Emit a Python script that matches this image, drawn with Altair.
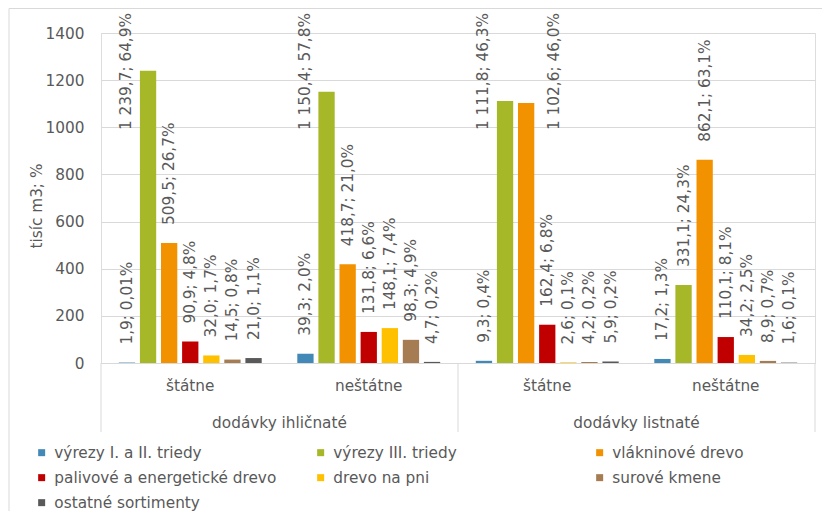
import altair as alt
import pandas as pd

# ---------------- data ----------------
series = ["výrezy I. a II. triedy", "výrezy III. triedy", "vlákninové drevo",
          "palivové a energetické drevo", "drevo na pni", "surové kmene",
          "ostatné sortimenty"]
colors = ["#4389B8", "#A6B727", "#F39200", "#C00000", "#FFC000", "#A67C52", "#595959"]

groups = ["dodávky ihličnaté", "dodávky listnaté"]
subcats = ["štátne", "neštátne"]

ihl_statne = [1.9, 1239.7, 509.5, 90.9, 32.0, 14.5, 21.0]
ihl_statne_pct = [0.01, 64.9, 26.7, 4.8, 1.7, 0.8, 1.1]
ihl_nestatne = [39.3, 1150.4, 418.7, 131.8, 148.1, 98.3, 4.7]
ihl_nestatne_pct = [2.0, 57.8, 21.0, 6.6, 7.4, 4.9, 0.2]
lis_statne = [9.3, 1111.8, 1102.6, 162.4, 2.6, 4.2, 5.9]
lis_statne_pct = [0.4, 46.3, 46.0, 6.8, 0.1, 0.2, 0.2]
lis_nestatne = [17.2, 331.1, 862.1, 110.1, 34.2, 8.9, 1.6]
lis_nestatne_pct = [1.3, 24.3, 63.1, 8.1, 2.5, 0.7, 0.1]

y_ticks = [0, 200, 400, 600, 800, 1000, 1200, 1400]

# ---------------- build table ----------------
blocks = [
    (groups[0], subcats[0], ihl_statne, ihl_statne_pct),
    (groups[0], subcats[1], ihl_nestatne, ihl_nestatne_pct),
    (groups[1], subcats[0], lis_statne, lis_statne_pct),
    (groups[1], subcats[1], lis_nestatne, lis_nestatne_pct),
]


def fmt_val(v):
    return f"{v:,.1f}".replace(",", " ").replace(".", ",")


def fmt_pct(p):
    s = f"{p:.2f}" if p < 0.05 else f"{p:.1f}"
    return s.replace(".", ",") + "%"


rows = []
keys = []
for g, sc, vals, pcts in blocks:
    key = f"{g}|{sc}"
    keys.append(key)
    for s, v, p in zip(series, vals, pcts):
        rows.append({"key": key, "group": g, "series": s, "v": v,
                     "label": f"{fmt_val(v)}; {fmt_pct(p)}"})
df = pd.DataFrame(rows)

grp_df = pd.DataFrame({"group": groups, "key": [keys[1], keys[3]]})
sep_left = pd.DataFrame({"key": [keys[0], keys[2]]})
sep_right = pd.DataFrame({"key": [keys[3]]})
frame_df = pd.DataFrame({"a": [0]})

FONT = "DejaVu Sans"
TXT = "#595959"
GRID = "#D9D9D9"
FS = 15.3
W, H = 714, 330

x_enc = alt.X("key:N", sort=keys, scale=alt.Scale(paddingInner=0, paddingOuter=0),
              axis=alt.Axis(title=None, labelExpr="split(datum.label, '|')[1]",
                            labelAngle=0, ticks=False, tickSize=0, labelPadding=15,
                            domainColor=GRID, domainWidth=1, grid=False,
                            labelFontSize=FS, labelColor=TXT, labelFont=FONT))
xoff = alt.XOffset("series:N", sort=series,
                   scale=alt.Scale(paddingInner=0.227, paddingOuter=0.843))
y_enc = alt.Y("v:Q", scale=alt.Scale(domain=[0, 1400], nice=False),
              axis=alt.Axis(title="tisíc m3; %", values=y_ticks, format="d", grid=True,
                            gridColor=GRID, gridWidth=1, domain=False, ticks=False,
                            tickSize=0, labelPadding=17, labelFontSize=FS,
                            labelColor=TXT, labelFont=FONT, titleFont=FONT,
                            titleFontSize=FS, titleColor=TXT, titleFontWeight="normal",
                            titleAngle=270, titleX=-65, titleY=215,
                            titleAlign="left", titleBaseline="middle"))

bars = alt.Chart(df).mark_bar(size=16.3).encode(
    x=x_enc, xOffset=xoff, y=y_enc,
    color=alt.Color("series:N", sort=series,
                    scale=alt.Scale(domain=series, range=colors),
                    legend=alt.Legend(title=None, orient="none", legendX=-67, legendY=412,
                                      columns=3, direction="horizontal", gridAlign="all",
                                      columnPadding=36, rowPadding=9,
                                      symbolType="square", symbolSize=49,
                                      symbolStrokeWidth=0, labelOffset=5,
                                      labelLimit=400, labelFontSize=FS,
                                      labelColor=TXT, labelFont=FONT)),
)

base_txt = dict(angle=270, baseline="middle", font=FONT, fontSize=FS, color=TXT)

labels = alt.Chart(df).transform_filter("datum.v <= 1000").mark_text(
    align="left", dx=18, **base_txt).encode(
    x=alt.X("key:N", sort=keys), xOffset=alt.XOffset("series:N", sort=series),
    y=alt.Y("v:Q"), text="label:N")

labels_top_left = alt.Chart(df).transform_filter(
    f"datum.v > 1000 && datum.series == '{series[1]}'").mark_text(
    align="right", dy=-22, **base_txt).encode(
    x=alt.X("key:N", sort=keys), xOffset=alt.XOffset("series:N", sort=series),
    y=alt.value(-20), text="label:N")

labels_top_right = alt.Chart(df).transform_filter(
    f"datum.v > 1000 && datum.series == '{series[2]}'").mark_text(
    align="right", dy=28, **base_txt).encode(
    x=alt.X("key:N", sort=keys), xOffset=alt.XOffset("series:N", sort=series),
    y=alt.value(-20), text="label:N")

group_text = alt.Chart(grp_df).mark_text(
    align="center", baseline="middle", font=FONT, fontSize=FS, color=TXT).encode(
    x=alt.X("key:N", sort=keys, bandPosition=0), y=alt.value(390), text="group:N")

sep1 = alt.Chart(sep_left).mark_rule(color=GRID, strokeWidth=1).encode(
    x=alt.X("key:N", sort=keys, bandPosition=0), y=alt.value(H), y2=alt.value(H + 69))
sep2 = alt.Chart(sep_right).mark_rule(color=GRID, strokeWidth=1).encode(
    x=alt.X("key:N", sort=keys, bandPosition=1), y=alt.value(H), y2=alt.value(H + 69))

frame = alt.Chart(frame_df).mark_rect(filled=False, stroke=GRID, strokeWidth=1).encode(
    x=alt.value(-92), x2=alt.value(W + 200), y=alt.value(-24.5), y2=alt.value(H + 300))

chart = alt.layer(frame, bars, labels, labels_top_left, labels_top_right,
                  group_text, sep1, sep2).properties(
    width=W, height=H,
    padding={"left": 93, "top": 25, "right": 7, "bottom": 148},
    autosize=alt.AutoSizeParams(type="none"),
).configure_view(stroke=None).configure(background="white")

chart.save("out.html", embed_options={"renderer": "svg", "actions": False})
